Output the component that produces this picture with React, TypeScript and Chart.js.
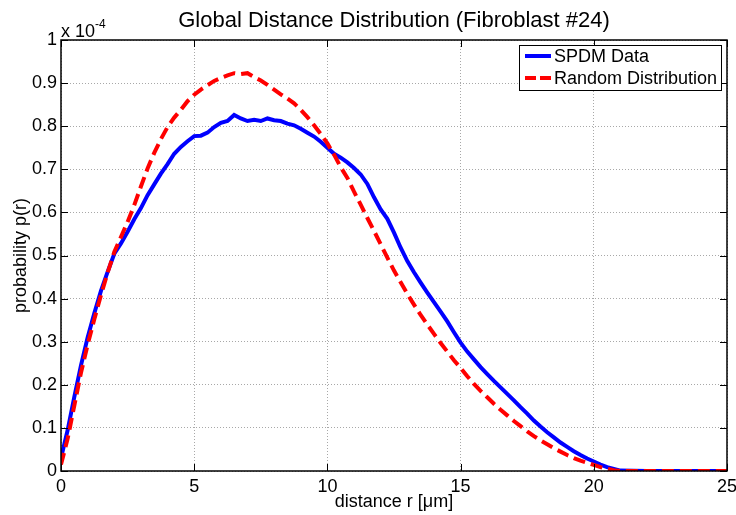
import React, { useEffect, useRef } from "react";
import { Chart, registerables } from "chart.js";

Chart.register(...registerables);

// Distance r in µm (sample positions)
const distance = [
  0, 0.25, 0.5, 0.75, 1, 1.25, 1.5, 1.75, 2, 2.25, 2.5, 2.75,
  3, 3.25, 3.5, 3.75, 4, 4.25, 4.5, 4.75, 5, 5.25, 5.5, 5.75,
  6, 6.25, 6.5, 6.75, 7, 7.25, 7.5, 7.75, 8, 8.25, 8.5, 8.75,
  9, 9.25, 9.5, 9.75, 10, 10.25, 10.5, 10.75, 11, 11.25, 11.5, 11.75,
  12, 12.25, 12.5, 12.75, 13, 13.25, 13.5, 13.75, 14, 14.25, 14.5, 14.75,
  15, 15.25, 15.5, 15.75, 16, 16.25, 16.5, 16.75, 17, 17.25, 17.5, 17.75,
  18, 18.25, 18.5, 18.75, 19, 19.25, 19.5, 19.75, 20, 20.25, 20.5, 20.75,
  21, 22, 23, 24, 25,
];

// Measured pair-distance probability (units of 1e-4)
const spdmData = [
  0.03, 0.095, 0.172, 0.245, 0.31, 0.366, 0.418, 0.462, 0.504, 0.528, 0.555, 0.584,
  0.61, 0.64, 0.665, 0.69, 0.712, 0.736, 0.752, 0.765, 0.777, 0.778, 0.785, 0.798,
  0.808, 0.812, 0.826, 0.818, 0.812, 0.815, 0.812, 0.818, 0.814, 0.812, 0.806, 0.802,
  0.794, 0.785, 0.776, 0.764, 0.75, 0.736, 0.727, 0.716, 0.703, 0.688, 0.666, 0.635,
  0.607, 0.585, 0.553, 0.518, 0.487, 0.461, 0.437, 0.414, 0.392, 0.37, 0.347, 0.322,
  0.298, 0.277, 0.259, 0.241, 0.225, 0.209, 0.194, 0.179, 0.164, 0.148, 0.133, 0.117,
  0.103, 0.09, 0.078, 0.066, 0.056, 0.046, 0.037, 0.029, 0.022, 0.015, 0.009, 0.005,
  0.001, 0, 0, 0, 0,
];

// Random distribution reference (units of 1e-4)
const randomData = [
  0.015, 0.075, 0.152, 0.228, 0.293, 0.352, 0.408, 0.46, 0.508, 0.543, 0.578, 0.617,
  0.66, 0.702, 0.738, 0.77, 0.798, 0.82, 0.838, 0.858, 0.873, 0.885, 0.895, 0.905,
  0.912, 0.918, 0.923, 0.921, 0.923, 0.914, 0.906, 0.896, 0.885, 0.874, 0.864, 0.853,
  0.838, 0.821, 0.802, 0.782, 0.76, 0.734, 0.705, 0.68, 0.648, 0.618, 0.587, 0.557,
  0.526, 0.495, 0.465, 0.438, 0.411, 0.386, 0.362, 0.34, 0.318, 0.297, 0.277, 0.257,
  0.239, 0.22, 0.202, 0.186, 0.171, 0.156, 0.142, 0.129, 0.116, 0.104, 0.092, 0.081,
  0.071, 0.062, 0.053, 0.045, 0.037, 0.03, 0.024, 0.019, 0.014, 0.009, 0.005, 0.002,
  0, 0, 0, 0, 0,
];

const xTicks = [0, 5, 10, 15, 20, 25];
const xTickLabels = ["0", "5", "10", "15", "20", "25"];
const yTicks = [0, 0.1, 0.2, 0.3, 0.4, 0.5, 0.6, 0.7, 0.8, 0.9, 1];
const yTickLabels = ["0", "0.1", "0.2", "0.3", "0.4", "0.5", "0.6", "0.7", "0.8", "0.9", "1"];

const seriesNames = ["SPDM Data", "Random Distribution"];
const titleText = "Global Distance Distribution (Fibroblast #24)";
const xLabel = "distance r [\u03bcm]";
const yLabel = "probability p(r)";

const FONT = "'Liberation Sans', Arial, Helvetica, sans-serif";
const BLUE = "#0000ff";
const RED = "#ff0000";

// Box, inward tick marks, title, axis labels and legend in MATLAB style
const decorations = {
  id: "decorations",
  afterDatasetsDraw(chart: any) {
    const { ctx, chartArea: a, scales } = chart;
    const xs = scales.x;
    const ys = scales.y;
    ctx.save();
    ctx.strokeStyle = "#000";
    ctx.lineWidth = 1;
    ctx.beginPath();
    const tl = 7;
    xTicks.forEach((v) => {
      const px = Math.round(xs.getPixelForValue(v)) + 0.5;
      ctx.moveTo(px, a.bottom);
      ctx.lineTo(px, a.bottom - tl);
      ctx.moveTo(px, a.top);
      ctx.lineTo(px, a.top + tl);
    });
    yTicks.forEach((v) => {
      const py = Math.round(ys.getPixelForValue(v)) + 0.5;
      ctx.moveTo(a.left, py);
      ctx.lineTo(a.left + tl, py);
      ctx.moveTo(a.right, py);
      ctx.lineTo(a.right - tl, py);
    });
    ctx.stroke();
    ctx.lineWidth = 1.5;
    ctx.strokeRect(a.left, a.top, a.right - a.left, a.bottom - a.top);
    ctx.restore();
  },
  afterDraw(chart: any) {
    const { ctx, chartArea: a } = chart;
    const cx = (a.left + a.right) / 2;
    ctx.save();
    ctx.fillStyle = "#000";

    // title
    ctx.font = `22px ${FONT}`;
    ctx.textAlign = "center";
    ctx.textBaseline = "alphabetic";
    ctx.fillText(titleText, cx, 27);

    // x label
    ctx.font = `18px ${FONT}`;
    ctx.fillText(xLabel, cx, 507);

    // y label
    ctx.save();
    ctx.translate(26, (a.top + a.bottom) / 2);
    ctx.rotate(-Math.PI / 2);
    ctx.fillText(yLabel, 0, 0);
    ctx.restore();

    // exponent label
    ctx.textAlign = "left";
    ctx.font = `18px ${FONT}`;
    ctx.fillText("x 10", a.left, 37);
    const w = ctx.measureText("x 10").width;
    ctx.font = `12px ${FONT}`;
    ctx.fillText("-4", a.left + w, 28);

    // legend
    const lx = 519.5, ly = 45.5, lw = 202, lh = 45;
    ctx.fillStyle = "#fff";
    ctx.fillRect(lx, ly, lw, lh);
    ctx.strokeStyle = "#000";
    ctx.lineWidth = 1;
    ctx.strokeRect(lx, ly, lw, lh);

    const rows = [
      { y: 56, color: BLUE, dash: [] as number[] },
      { y: 78, color: RED, dash: [11, 4] },
    ];
    rows.forEach((r, i) => {
      ctx.beginPath();
      ctx.setLineDash(r.dash);
      ctx.strokeStyle = r.color;
      ctx.lineWidth = 4;
      ctx.moveTo(525, r.y);
      ctx.lineTo(551, r.y);
      ctx.stroke();
      ctx.setLineDash([]);
      ctx.fillStyle = "#000";
      ctx.font = `18px ${FONT}`;
      ctx.textBaseline = "middle";
      ctx.fillText(seriesNames[i], 554, r.y + 1);
    });
    ctx.restore();
  },
};

export default function App() {
  const canvasRef = useRef<HTMLCanvasElement | null>(null);

  useEffect(() => {
    const canvas = canvasRef.current;
    if (!canvas) return;
    const gridColor = "#a8a8a8";
    const chart = new Chart(canvas, {
      type: "line",
      data: {
        datasets: [
          {
            label: seriesNames[0],
            data: distance.map((x, i) => ({ x, y: spdmData[i] })),
            borderColor: BLUE,
            borderWidth: 4,
            pointRadius: 0,
            tension: 0,
            fill: false,
            order: 2,
          },
          {
            label: seriesNames[1],
            data: distance.map((x, i) => ({ x, y: randomData[i] })),
            borderColor: RED,
            borderWidth: 4,
            borderDash: [12, 6],
            borderCapStyle: "butt",
            pointRadius: 0,
            tension: 0,
            fill: false,
            order: 1,
          },
        ],
      },
      options: {
        animation: false,
        responsive: false,
        devicePixelRatio: 1,
        layout: { padding: { top: 40, right: 9, left: 0, bottom: 0 } },
        plugins: {
          legend: { display: false },
          title: { display: false },
          tooltip: { enabled: false },
        },
        scales: {
          x: {
            type: "linear",
            min: 0,
            max: 25,
            afterBuildTicks: (s: any) => {
              s.ticks = xTicks.map((v) => ({ value: v }));
            },
            afterFit: (s: any) => {
              s.height = 44;
              s.paddingLeft = 0;
              s.paddingRight = 0;
            },
            ticks: {
              color: "#000",
              font: { family: FONT, size: 18 },
              padding: 5,
              maxRotation: 0,
              autoSkip: false,
              callback: (_v: any, i: number) => xTickLabels[i],
            },
            grid: { color: gridColor, lineWidth: 1, drawTicks: false },
            border: { display: false, dash: [1, 2] },
          },
          y: {
            type: "linear",
            min: 0,
            max: 1,
            afterBuildTicks: (s: any) => {
              s.ticks = yTicks.map((v) => ({ value: v }));
            },
            afterFit: (s: any) => {
              s.width = 61;
              s.paddingTop = 0;
              s.paddingBottom = 0;
            },
            ticks: {
              color: "#000",
              font: { family: FONT, size: 18 },
              padding: 4,
              autoSkip: false,
              callback: (_v: any, i: number) => yTickLabels[i],
            },
            grid: { color: gridColor, lineWidth: 1, drawTicks: false },
            border: { display: false, dash: [1, 2] },
          },
        },
      },
      plugins: [decorations],
    });
    return () => chart.destroy();
  }, []);

  return (
    <div style={{ position: "fixed", left: 0, top: 0, width: 736, height: 515, background: "#fff" }}>
      <canvas ref={canvasRef} width={736} height={515} />
    </div>
  );
}
